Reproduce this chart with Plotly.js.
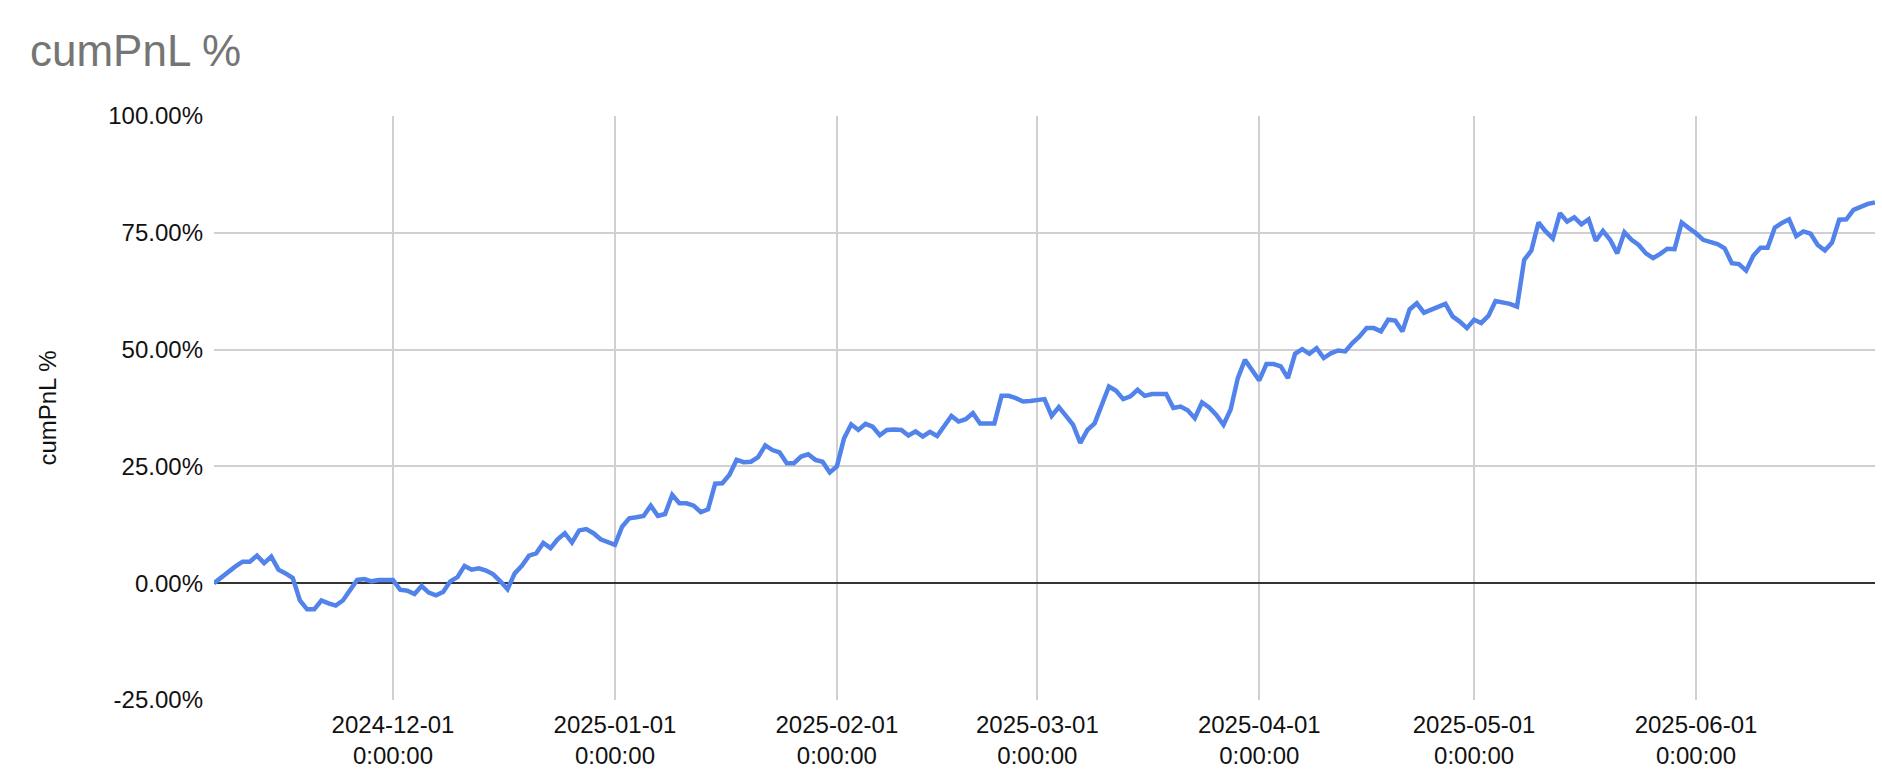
<!DOCTYPE html>
<html>
<head>
<meta charset="utf-8">
<script src="https://cdn.plot.ly/plotly-3.0.1.min.js"></script>
<style>
  html, body { margin: 0; padding: 0; background: #ffffff; }
  #chart { width: 1882px; height: 780px; }
</style>
</head>
<body>
<div id="chart"></div>
<script>
// ---- data ----
const startDate = '2024-11-06';           // first observation (daily series)
const cumPnL = [
  0.0, 1.3, 2.5, 3.6, 4.6, 4.6, 5.9, 4.3, 5.7, 2.9,
  2.1, 1.1, -3.7, -5.6, -5.6, -3.7, -4.3, -4.8, -3.7, -1.4,
  0.7, 0.9, 0.4, 0.7, 0.7, 0.7, -1.4, -1.6, -2.3, -0.6,
  -2.0, -2.6, -1.9, 0.4, 1.3, 3.7, 2.9, 3.2, 2.7, 1.9,
  0.4, -1.3, 2.1, 3.7, 5.9, 6.4, 8.6, 7.5, 9.4, 10.7,
  8.7, 11.3, 11.6, 10.7, 9.4, 8.9, 8.2, 12.1, 13.9, 14.1,
  14.4, 16.6, 14.4, 14.8, 18.9, 17.1, 17.1, 16.6, 15.2, 15.8,
  21.3, 21.4, 23.2, 26.4, 25.9, 26.0, 27.0, 29.5, 28.5, 28.0,
  25.7, 25.7, 27.1, 27.6, 26.4, 26.0, 23.7, 25.0, 31.0, 34.0,
  32.8, 34.1, 33.5, 31.7, 32.8, 32.9, 32.8, 31.6, 32.5, 31.4,
  32.4, 31.5, 33.5, 35.8, 34.6, 35.1, 36.4, 34.2, 34.2, 34.2,
  40.1, 40.1, 39.6, 38.9, 39.0, 39.2, 39.4, 35.8, 37.7, 35.8,
  33.9, 30.0, 32.8, 34.2, 38.5, 42.1, 41.2, 39.4, 40.0, 41.4,
  40.1, 40.5, 40.5, 40.5, 37.5, 37.8, 37.0, 35.3, 38.7, 37.6,
  36.0, 33.9, 37.2, 43.9, 47.8, 45.7, 43.4, 46.9, 46.9, 46.4,
  43.9, 49.1, 50.1, 49.1, 50.3, 48.2, 49.2, 49.8, 49.6, 51.4,
  52.8, 54.6, 54.6, 53.9, 56.4, 56.2, 53.9, 58.6, 59.9, 57.9,
  58.6, 59.2, 59.8, 57.1, 56.0, 54.6, 56.4, 55.7, 57.2, 60.4,
  60.1, 59.8, 59.2, 69.2, 71.2, 77.2, 75.3, 73.8, 79.2, 77.4,
  78.3, 76.8, 77.9, 73.3, 75.4, 73.5, 70.6, 75.1, 73.5, 72.4,
  70.6, 69.6, 70.5, 71.6, 71.5, 77.2, 76.0, 74.9, 73.5, 73.1,
  72.6, 71.7, 68.5, 68.3, 66.9, 70.1, 71.8, 71.8, 76.1, 77.1,
  77.9, 74.3, 75.3, 74.8, 72.4, 71.2, 72.9, 77.8, 77.9, 79.9,
  80.6, 81.2, 81.5
];
const xTickDates = ['2024-12-01', '2025-01-01', '2025-02-01', '2025-03-01', '2025-04-01', '2025-05-01', '2025-06-01'];
const xTickLabels = ['2024-12-01<br>0:00:00', '2025-01-01<br>0:00:00', '2025-02-01<br>0:00:00',
                     '2025-03-01<br>0:00:00', '2025-04-01<br>0:00:00', '2025-05-01<br>0:00:00',
                     '2025-06-01<br>0:00:00'];
const yTickValues = [-25, 0, 25, 50, 75, 100];
const yTickLabels = ['-25.00%', '0.00%', '25.00%', '50.00%', '75.00%', '100.00%'];
const chartTitle = 'cumPnL %';
const yAxisTitle = 'cumPnL %';

// build daily dates
function isoDay(d) { return d.toISOString().slice(0, 10); }
const dates = [];
{
  const d0 = new Date(startDate + 'T00:00:00Z');
  for (let i = 0; i < cumPnL.length; i++) {
    const d = new Date(d0.getTime() + i * 86400000);
    dates.push(isoDay(d));
  }
}

const FONT = '"Liberation Sans", Arial, Helvetica, sans-serif';

const trace = {
  type: 'scatter',
  mode: 'lines',
  x: dates,
  y: cumPnL,
  line: { color: '#5283ea', width: 4.5 },
  hoverinfo: 'x+y'
};

const layout = {
  width: 1882,
  height: 780,
  margin: { l: 214, r: 7, t: 116, b: 80 },
  paper_bgcolor: '#ffffff',
  plot_bgcolor: '#ffffff',
  font: { family: FONT, size: 24, color: '#111111' },
  showlegend: false,
  title: {
    text: chartTitle,
    font: { family: FONT, size: 44, color: '#757575' },
    xref: 'container', x: 30 / 1882, xanchor: 'left',
    yref: 'container', y: 1 - 51 / 780, yanchor: 'middle'
  },
  xaxis: {
    type: 'date',
    range: [dates[0], dates[dates.length - 1]],
    tickmode: 'array',
    tickvals: xTickDates,
    ticktext: xTickLabels,
    showgrid: true,
    gridcolor: '#d0d0d0',
    gridwidth: 2,
    zeroline: false,
    showline: false,
    ticks: '',
    tickfont: { family: FONT, size: 24, color: '#111111' },
    ticklabelstandoff: 8
  },
  yaxis: {
    range: [-25, 100],
    tickmode: 'array',
    tickvals: yTickValues,
    ticktext: yTickLabels,
    showgrid: true,
    gridcolor: '#d0d0d0',
    gridwidth: 2,
    zeroline: true,
    zerolinecolor: '#333333',
    zerolinewidth: 2,
    showline: false,
    ticks: '',
    tickfont: { family: FONT, size: 24, color: '#111111' },
    ticklabelstandoff: 10,
    title: {
      text: yAxisTitle,
      font: { family: FONT, size: 24, color: '#111111' },
      standoff: 44
    }
  }
};

Plotly.newPlot('chart', [trace], layout, { displayModeBar: false, staticPlot: true });
</script>
</body>
</html>
